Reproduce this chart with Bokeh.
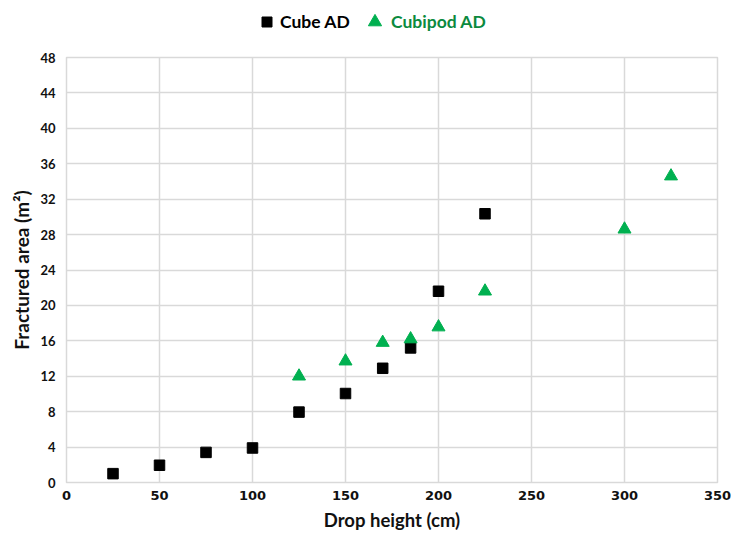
from bokeh.plotting import figure
from bokeh.layouts import column
from bokeh.models import Range1d, Legend, LegendItem, FixedTicker
from bokeh.embed import file_html
from bokeh.resources import INLINE

cube_x = [25, 50, 75, 100, 125, 150, 170, 185, 200, 225]
cube_y = [1.0, 1.95, 3.4, 3.9, 7.95, 10.05, 12.9, 15.2, 21.6, 30.35]
cubipod_x = [125, 150, 170, 185, 200, 225, 300, 325]
cubipod_y = [12.0, 13.7, 15.8, 16.2, 17.55, 21.6, 28.6, 34.6]
x_ticks = [0, 50, 100, 150, 200, 250, 300, 350]
y_ticks = [0, 4, 8, 12, 16, 20, 24, 28, 32, 36, 40, 44, 48]

FONT = "Lato"
GRID = "#d9d9d9"
GREEN = "#00b050"

# --- legend strip (its renderers hold one point outside its visible range) ---
lf = figure(width=731, height=40, output_backend="svg", toolbar_location=None,
            x_range=Range1d(0, 1), y_range=Range1d(0, 1),
            x_axis_type=None, y_axis_type=None,
            min_border=0, min_border_left=0, min_border_right=0,
            min_border_top=0, min_border_bottom=0)
lf.outline_line_color = None
lf.grid.visible = False
lr1 = lf.scatter(x=cube_x[:1], y=cube_y[:1], marker="square", color="black")
lr2 = lf.scatter(x=cubipod_x[:1], y=cubipod_y[:1], marker="triangle", color=GREEN)

leg1 = Legend(items=[LegendItem(label="Cube AD", renderers=[lr1])],
              location=(188, 6), orientation="horizontal",
              label_text_font=FONT, label_text_font_style="bold",
              label_text_font_size="17.5px", label_text_color="black",
              background_fill_alpha=0, border_line_color=None,
              glyph_width=25, glyph_height=25, label_standoff=1, padding=0, margin=0)
leg2 = Legend(items=[LegendItem(label="Cubipod AD", renderers=[lr2])],
              location=(292, 2), orientation="horizontal",
              label_text_font=FONT, label_text_font_style="bold",
              label_text_font_size="17.5px", label_text_color="#0b8a3e",
              background_fill_alpha=0, border_line_color=None,
              glyph_width=33, glyph_height=33, label_standoff=-13, padding=0, margin=0)
lf.add_layout(leg1, "center")
lf.add_layout(leg2, "center")

# --- main chart ---
p = figure(width=731, height=499, output_backend="svg", toolbar_location=None,
           x_range=Range1d(0, 350), y_range=Range1d(0, 48),
           min_border_left=66, min_border_right=14, min_border_top=17, min_border_bottom=57)
p.outline_line_color = GRID
p.outline_line_width = 1.5
p.background_fill_color = "white"
p.border_fill_color = "white"

for ax in (p.xaxis, p.yaxis):
    ax.axis_line_color = None
    ax.major_tick_line_color = None
    ax.minor_tick_line_color = None
    ax.major_tick_out = 0
    ax.major_tick_in = 0
    ax.minor_tick_out = 0
    ax.minor_tick_in = 0
    ax.major_label_text_font_style = "bold"
    ax.major_label_text_font_size = "13px"
    ax.major_label_text_color = "#111111"
    ax.axis_label_text_font = FONT
    ax.axis_label_text_font_style = "bold"
    ax.axis_label_text_color = "#111111"

p.xaxis.axis_label_text_font_size = "18.5px"
p.yaxis.axis_label_text_font_size = "19px"
p.xaxis.major_label_text_font = "DejaVu Sans"
p.yaxis.major_label_text_font = FONT
p.xaxis.ticker = FixedTicker(ticks=x_ticks)
p.yaxis.ticker = FixedTicker(ticks=y_ticks)
p.xaxis.axis_label = "Drop height (cm)"
p.yaxis.axis_label = "Fractured area (m²)"
p.xaxis.major_label_standoff = 8
p.yaxis.major_label_standoff = 11
p.xaxis.axis_label_standoff = 6
p.yaxis.axis_label_standoff = 4

p.xgrid.ticker = FixedTicker(ticks=x_ticks)
p.ygrid.ticker = FixedTicker(ticks=y_ticks)
p.grid.grid_line_color = GRID
p.grid.grid_line_width = 1.5

p.scatter(cube_x, cube_y, marker="square", size=10.5, color="black")
p.scatter(cubipod_x, cubipod_y, marker="triangle", size=13, color=GREEN)

layout = column(lf, p, spacing=0)
open("out.html", "w").write(file_html(layout, INLINE))
